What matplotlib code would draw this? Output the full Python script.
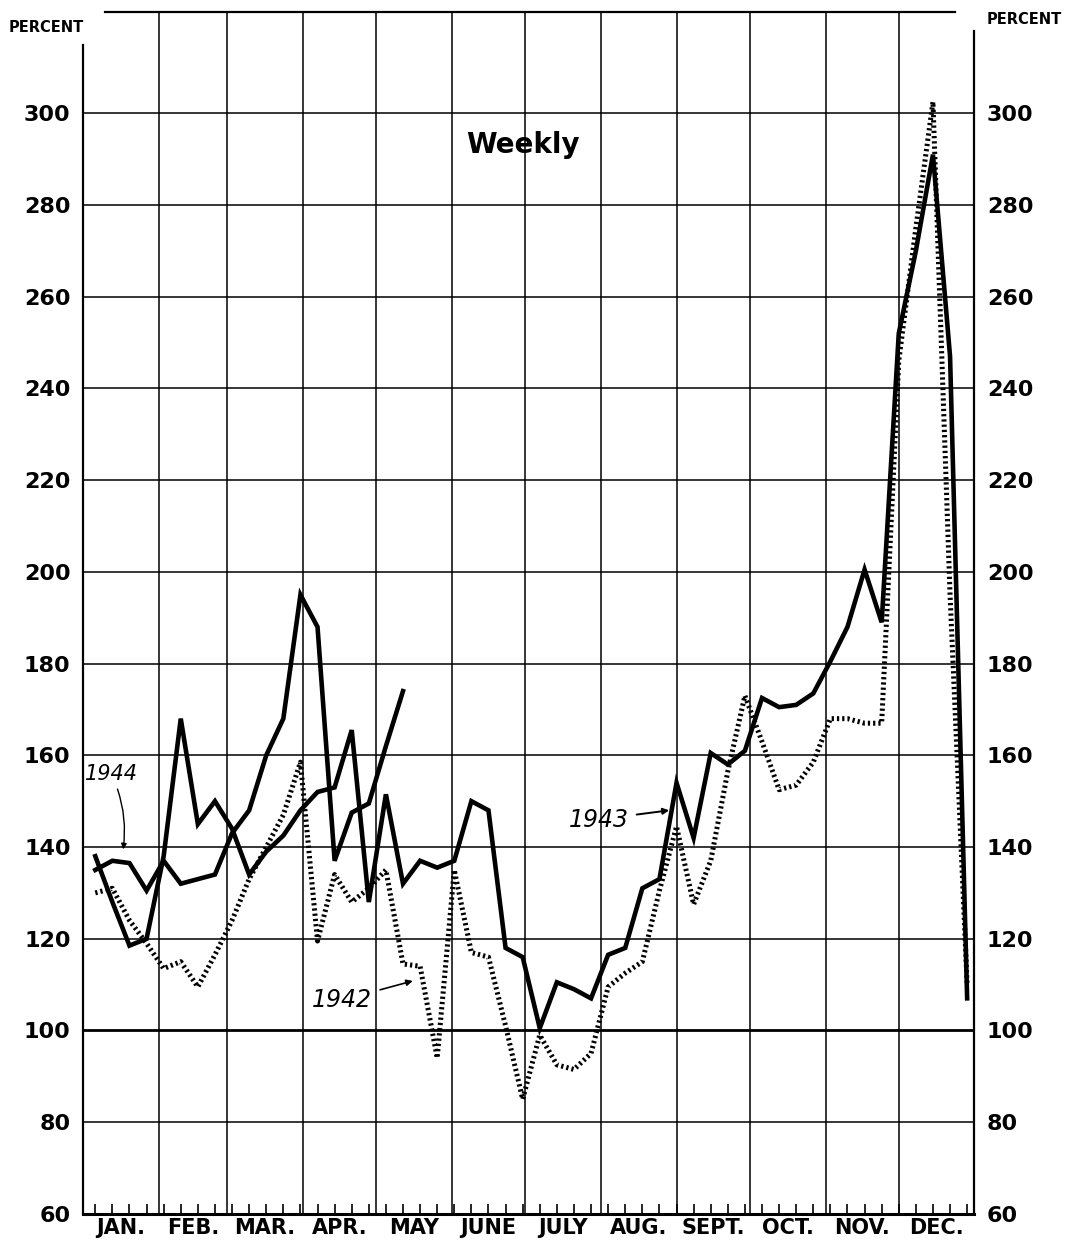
import matplotlib.pyplot as plt
import numpy as np

# weekly index, percent
months = ["JAN.", "FEB.", "MAR.", "APR.", "MAY", "JUNE",
          "JULY", "AUG.", "SEPT.", "OCT.", "NOV.", "DEC."]
month_days = [31, 28, 31, 30, 31, 30, 31, 31, 30, 31, 30, 31]

y1942 = [130, 131, 124, 119, 113.5, 115, 109.5, 116.5, 124, 133, 140, 147,
         158.5, 119.5, 134, 128, 131, 135, 114.5, 114, 94, 135, 117, 116,
         101, 85, 99, 92.5, 91.5, 95, 109.5, 112.5, 115, 130.5, 144.5, 127.5,
         137, 156.5, 173, 163, 152.5, 153.5, 158.5, 168, 168, 167, 167, 246,
         275, 302.5, 195, 110]
y1943 = [138, 128, 118.5, 120, 138, 168, 145, 150, 144, 134, 139, 142.5,
         148, 152, 153, 165.5, 128, 151.5, 132, 137, 135.5, 137, 150, 148,
         118, 116, 100.5, 110.5, 109, 107, 116.5, 118, 131, 133, 154, 142,
         160.5, 158, 161, 172.5, 170.5, 171, 173.5, 180.5, 188, 200.5, 189, 252,
         270, 291, 247, 107]
y1944 = [135, 137, 136.5, 130.5, 137, 132, 133, 134, 143, 148, 160, 168,
         195, 188, 137, 147.5, 149.5, 162, 174]

yticks = [60, 80, 100, 120, 140, 160, 180, 200, 220, 240, 260, 280, 300]

bounds = np.concatenate([[0], np.cumsum(month_days)])
week_day = 5 + 7 * np.arange(52)   # weeks ending on these days of the year

fig = plt.figure(figsize=(10.65, 12.45), dpi=100)
ax = fig.add_axes([0.078, 0.025, 0.837, 0.965])
ax.set_xlim(0, 365)
ax.set_ylim(60, 322)

# grid
for v in yticks[1:]:
    ax.axhline(v, color="black", lw=2.0 if v == 100 else 1.1, zorder=1)
for b in bounds[1:-1]:
    ax.axvline(b, color="black", lw=1.1, zorder=1)

for s in ["left", "right", "bottom", "top"]:
    ax.spines[s].set_linewidth(1.6)
ax.spines["left"].set_bounds(60, 315)
ax.spines["right"].set_bounds(60, 318)
ax.spines["top"].set_bounds(9, 357)
ax.spines["bottom"].set_linewidth(2.2)

# series
ax.plot(week_day[:len(y1942)], y1942, color="black", lw=3.6,
        linestyle=(0, (0.45, 0.6)), dash_capstyle="butt", zorder=3)
ax.plot(week_day[:len(y1943)], y1943, color="black", lw=3.3,
        solid_joinstyle="miter", zorder=4)
ax.plot(week_day[:len(y1944)], y1944, color="black", lw=3.3,
        solid_joinstyle="miter", zorder=4)

# axes ticks
ax.xaxis.remove_overlapping_locs = False
ax.set_xticks(week_day)
ax.tick_params(axis="x", which="major", direction="in", length=7, width=1.2,
               labelbottom=False)
ax.set_xticks((bounds[:-1] + bounds[1:]) / 2, minor=True)
ax.set_xticklabels(months, minor=True, fontsize=15, fontweight="bold")
ax.tick_params(axis="x", which="minor", length=0, pad=3)

ax.set_yticks(yticks)
ax.set_yticklabels([str(v) for v in yticks], fontsize=16, fontweight="bold")
ax.tick_params(axis="y", length=0, pad=9, labelleft=True, labelright=True)

fig.text(0.008, 1 - 28 / 1245, "PERCENT", fontsize=10.5, fontweight="bold",
         va="center", ha="left")
fig.text(0.997, 1 - 20 / 1245, "PERCENT", fontsize=10.5, fontweight="bold",
         va="center", ha="right")

ax.text(180, 293, "Weekly", fontsize=20, fontweight="bold",
        ha="center", va="center")

# year labels
ax.annotate("1944", xy=(16.4, 139.5), xytext=(11.5, 156), fontsize=15,
            style="italic", ha="center", va="center",
            arrowprops=dict(arrowstyle="-|>", color="black", lw=1.0,
                            mutation_scale=8, shrinkA=2, shrinkB=0,
                            connectionstyle="arc3,rad=-0.15"))
ax.annotate("1942", xy=(135, 110.8), xytext=(106, 106.6), fontsize=17,
            style="italic", ha="center", va="center",
            arrowprops=dict(arrowstyle="-|>", color="black", lw=1.2,
                            mutation_scale=9, shrinkA=4, shrinkB=0))
ax.annotate("1943", xy=(240, 148), xytext=(211, 146), fontsize=17,
            style="italic", ha="center", va="center",
            arrowprops=dict(arrowstyle="-|>", color="black", lw=1.4,
                            mutation_scale=9, shrinkA=4, shrinkB=0))

plt.savefig("out.png", dpi=100)
